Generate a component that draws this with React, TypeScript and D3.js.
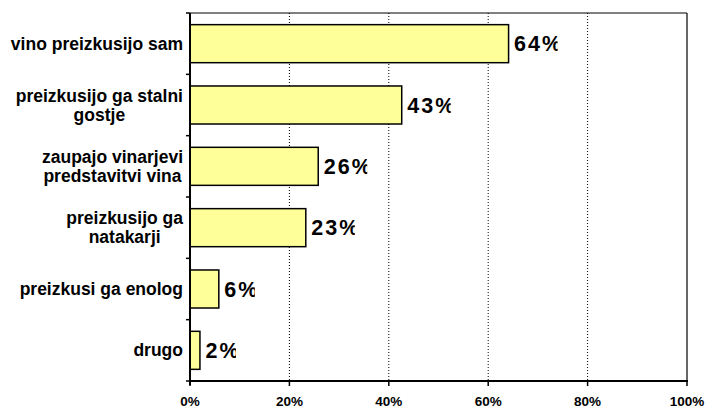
import React from "react";
import * as d3 from "d3";

const categories: string[][] = [
  ["vino preizkusijo sam"],
  ["preizkusijo ga stalni", "gostje"],
  ["zaupajo vinarjevi", "predstavitvi vina"],
  ["preizkusijo ga", "natakarji"],
  ["preizkusi ga enolog"],
  ["drugo"],
];
const values: number[] = [64.1, 42.6, 25.8, 23.3, 5.8, 2.0];
const valueLabels: string[] = ["64%", "43%", "26%", "23%", "6%", "2%"];
const xTicks: number[] = [0, 20, 40, 60, 80, 100];

const W = 706;
const H = 408;
const left = 190;
const right = 687;
const top = 13;
const bottom = 381;
const catFontSize = 17.5;

let ctx: CanvasRenderingContext2D | null = null;
function measure(s: string): number {
  if (!ctx && typeof document !== "undefined") {
    ctx = document.createElement("canvas").getContext("2d");
  }
  if (!ctx) return s.length * catFontSize * 0.55;
  ctx.font = `bold ${catFontSize}px 'Liberation Sans', Arial, sans-serif`;
  return ctx.measureText(s).width;
}

export default function App() {
  const x = d3.scaleLinear().domain([0, 100]).range([left, right]);
  const y = d3
    .scaleBand<number>()
    .domain(d3.range(categories.length))
    .range([top, bottom])
    .paddingInner(0.38)
    .paddingOuter(0.19);
  const step = y.step();
  const font = "'Liberation Sans', Arial, sans-serif";

  return (
    <svg
      width={W}
      height={H}
      style={{ position: "absolute", left: 0, top: 0, background: "#fff" }}
      fontFamily={font}
    >
      <defs>
        {values.map((v, i) => {
          const w = valueLabels[i].length === 3 ? 44 : 31;
          return (
            <clipPath id={"clip" + i} key={"c" + i}>
              <rect x={x(v) + 5} y={y(i)! - 10} width={w} height={y.bandwidth() + 20} />
            </clipPath>
          );
        })}
      </defs>
      {/* gridlines */}
      {xTicks.slice(1, -1).map((t) => (
        <line
          key={"g" + t}
          x1={x(t)}
          x2={x(t)}
          y1={top}
          y2={bottom}
          stroke="#000"
          strokeWidth={1}
          strokeDasharray="1,2"
        />
      ))}
      {/* top & right border */}
      <line x1={left} x2={right} y1={top} y2={top} stroke="#000" strokeWidth={1} />
      <line x1={right} x2={right} y1={top} y2={bottom} stroke="#000" strokeWidth={1.2} />
      {/* bars */}
      {values.map((v, i) => (
        <rect
          key={"b" + i}
          x={x(0)}
          y={y(i)!}
          width={x(v) - x(0)}
          height={y.bandwidth()}
          fill="#FFFF99"
          stroke="#000"
          strokeWidth={1.5}
        />
      ))}
      {/* value labels */}
      {values.map((v, i) => (
        <text
          key={"v" + i}
          x={x(v) + 5.5}
          y={y(i)! + y.bandwidth() / 2 + 7.5}
          fontSize={21.5}
          fontWeight="bold"
          letterSpacing={2}
          clipPath={`url(#clip${i})`}
        >
          {valueLabels[i]}
        </text>
      ))}
      {/* left axis */}
      <line x1={left} x2={left} y1={top} y2={bottom + 4} stroke="#000" strokeWidth={2} />
      {d3.range(categories.length + 1).map((k) => (
        <line
          key={"lt" + k}
          x1={left - 4}
          x2={left}
          y1={top + k * step}
          y2={top + k * step}
          stroke="#000"
          strokeWidth={1.5}
        />
      ))}
      {/* bottom axis */}
      <line x1={left - 1} x2={right + 1} y1={bottom} y2={bottom} stroke="#000" strokeWidth={2} />
      {xTicks.map((t) => (
        <g key={"xt" + t}>
          <line x1={x(t)} x2={x(t)} y1={bottom} y2={bottom + 5} stroke="#000" strokeWidth={1.5} />
          <text
            x={x(t)}
            y={406}
            textAnchor="middle"
            fontSize={13.5}
            fontWeight="bold"
          >
            {t + "%"}
          </text>
        </g>
      ))}
      {/* category labels */}
      {categories.map((lines, i) => {
        const cy = top + (i + 0.5) * step;
        const lh = 19;
        const y0 = cy - ((lines.length - 1) * lh) / 2 + 6;
        const maxW = Math.max(...lines.map(measure));
        const cx = left - 7 - maxW / 2;
        return (
          <text key={"cat" + i} fontSize={catFontSize} fontWeight="bold">
            {lines.map((ln, j) => (
              <tspan key={j} x={cx} y={y0 + j * lh} textAnchor="middle">
                {ln}
              </tspan>
            ))}
          </text>
        );
      })}
    </svg>
  );
}
